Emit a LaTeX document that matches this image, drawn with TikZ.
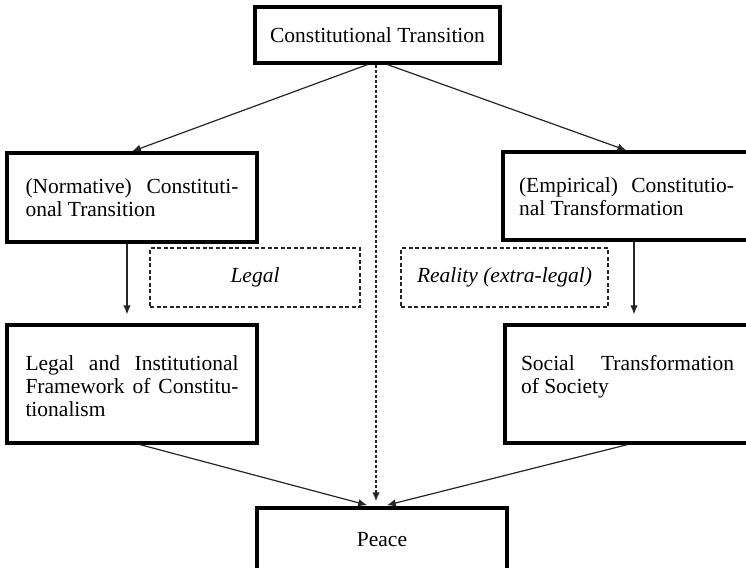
\documentclass[tikz,border=0pt]{standalone}
\usepackage{fontspec}
\setmainfont{Liberation Serif}
\usetikzlibrary{arrows.meta,calc}

% a text block of fixed height whose first baseline sits #2 below its top
\newcommand{\topblock}[4]{\parbox[c][#1][t]{#3}{#4}}
% a justified line carrying the first-baseline strut
\newcommand{\firstline}[2]{\hbox to\linewidth{\rule{0pt}{#1}#2}}
\newcommand{\fullline}[1]{\hbox to\linewidth{#1}}
\newcommand{\lastline}[1]{\hbox{#1}}

\begin{document}
\begin{tikzpicture}[x=1pt,y=-1pt,
  every node/.style={font=\fontsize{21.5}{23}\selectfont},
  solidbox/.style={draw=black,line width=3.2pt,fill=white,inner sep=0pt,
    rectangle},
  hintbox/.style={draw=black!85,line width=1.3pt,dash pattern=on 4pt off 2.5pt,
    inner sep=0pt,rectangle,font=\fontsize{21.5}{23}\selectfont\itshape},
  flow/.style={draw=black!85,line width=1.2pt,-{Latex[length=9pt,width=7.5pt]}},
  dottedflow/.style={draw=black!85,line width=1.8pt,dash pattern=on 3pt off 2pt,
    -{Latex[length=9pt,width=7.5pt]}}]
\useasboundingbox (0,0) rectangle (746,567);
\clip (0,0) rectangle (746,567);
\fill[white] (0,0) rectangle (746,567);

% boxes
\node[solidbox,minimum width=245pt,minimum height=56pt] (top) at (377.5,35)
  {Constitutional Transition};

\node[solidbox,minimum width=250pt,minimum height=89pt] (norm) at (132,197.5)
  {\topblock{89pt}{40pt}{213pt}{%
    \firstline{40pt}{(Normative)\hfill Constituti-}%
    \lastline{onal Transition}}};

\node[solidbox,minimum width=247pt,minimum height=88pt] (emp) at (626.5,196)
  {\topblock{88pt}{40pt}{215pt}{%
    \firstline{40pt}{(Empirical)\hfill Constitutio-}%
    \lastline{nal Transformation}}};

\node[solidbox,minimum width=250pt,minimum height=118pt] (frame) at (132,384)
  {\topblock{118pt}{45pt}{213pt}{%
    \firstline{45pt}{Legal\hfill and\hfill Institutional}%
    \fullline{Framework\hfill of\hfill Constitu-}%
    \lastline{tionalism}}};

\node[solidbox,minimum width=245pt,minimum height=118pt] (social) at (627.5,384)
  {\topblock{118pt}{45pt}{213pt}{%
    \firstline{45pt}{Social\hfill Transformation}%
    \lastline{of Society}}};

\node[solidbox,minimum width=250pt,minimum height=64pt] (peace) at (382,540)
  {Peace};

% dashed labels
\node[hintbox,minimum width=210pt,minimum height=59pt] (legal) at (255,277.5)
  {Legal};
\node[hintbox,minimum width=207pt,minimum height=59pt] (reality) at (504.5,277.5)
  {Reality (extra-legal)};

% connectors
\draw[flow] ($(top.south)+(-10,0)$) -- (norm.north);
\draw[flow] ($(top.south)+(10,0)$) -- (emp.north);
\draw[dottedflow,shorten >=5pt] ($(top.south)+(-1.5,0)$) -- ($(top.south |- peace.north)+(-1.5,0)$);

\draw[flow,shorten >=9pt] ($(norm.south)+(-5,0)$) -- ($(norm.south |- frame.north)+(-5,0)$);
\draw[flow,shorten >=9pt] ($(emp.south)+(7.5,0)$) -- ($(emp.south |- social.north)+(7.5,0)$);

\draw[flow,shorten >=5pt] ($(frame.south)+(8,0)$) -- ($(peace.north)+(-10,0)$);
\draw[flow,shorten >=5pt] (social.south) -- (peace.north);
\end{tikzpicture}
\end{document}
